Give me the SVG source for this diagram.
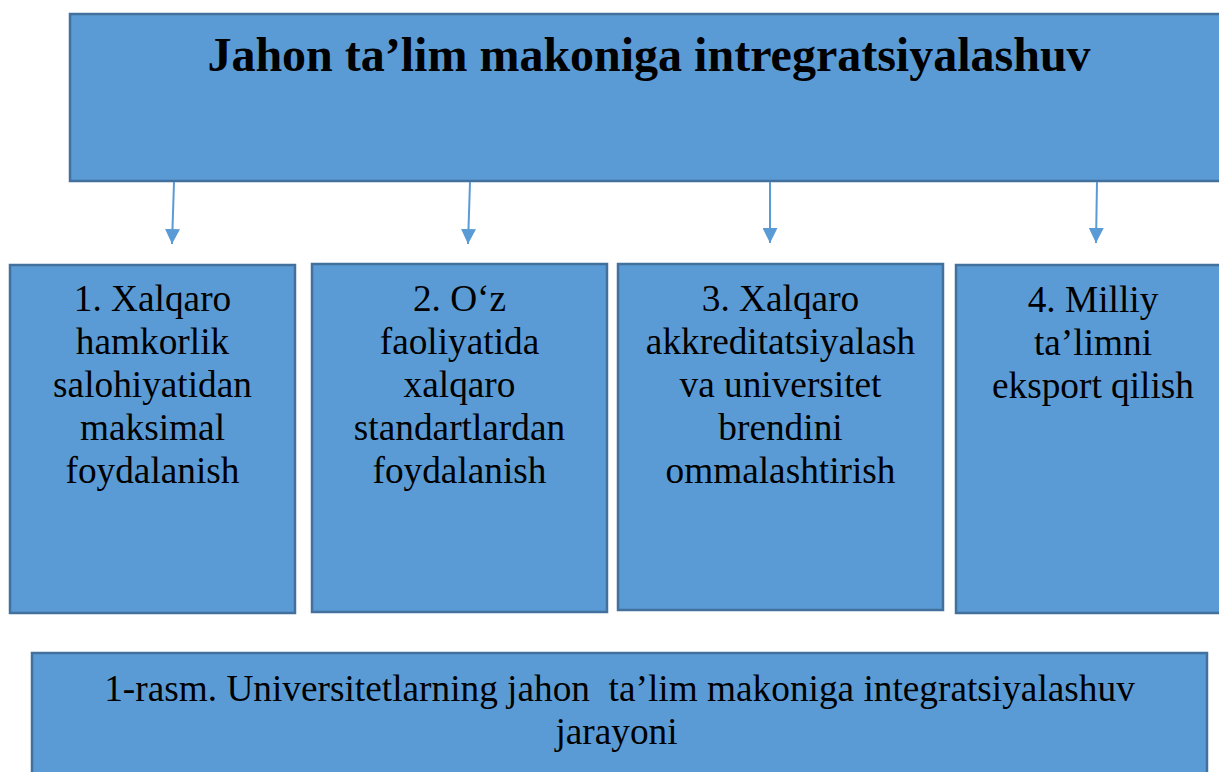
<svg xmlns="http://www.w3.org/2000/svg" width="1219" height="772" viewBox="0 0 1219 772">
<style>
.box{fill:#5B9BD5;stroke:#41719C;stroke-width:2.5}
.t{font-family:"Liberation Serif","Times New Roman",serif;font-size:37.3px;fill:#000;text-anchor:middle}
.title{font-family:"Liberation Serif","Times New Roman",serif;font-size:48px;font-weight:bold;fill:#000;text-anchor:middle}
.conn{stroke:#5B9BD5;stroke-width:2;fill:none}
</style>
<defs>
<marker id="arr" viewBox="0 0 16 15" refX="15" refY="7.5" markerWidth="16" markerHeight="15" markerUnits="userSpaceOnUse" orient="auto">
<path d="M0,0 L15,7.5 L0,15 Z" fill="#5B9BD5"/>
</marker>
</defs>
<rect width="1219" height="772" fill="#fff"/>
<g id="top">
<rect class="box" x="70" y="14" width="1160" height="167"/>
<text class="title" x="649" y="71">Jahon ta’lim makoniga intregratsiyalashuv</text>
</g>
<g id="connectors">
<line class="conn" x1="174" y1="182" x2="172" y2="244" marker-end="url(#arr)"/>
<line class="conn" x1="470" y1="182" x2="468" y2="244" marker-end="url(#arr)"/>
<line class="conn" x1="770" y1="182" x2="770" y2="243" marker-end="url(#arr)"/>
<line class="conn" x1="1097" y1="182" x2="1096" y2="243" marker-end="url(#arr)"/>
</g>
<g id="n1">
<rect class="box" x="10" y="265" width="285" height="348"/>
<text class="t" x="152.5" y="311">1. Xalqaro</text>
<text class="t" x="152.5" y="354">hamkorlik</text>
<text class="t" x="152.5" y="397">salohiyatidan</text>
<text class="t" x="152.5" y="440">maksimal</text>
<text class="t" x="152.5" y="483">foydalanish</text>
</g>
<g id="n2">
<rect class="box" x="312" y="264" width="295" height="348"/>
<text class="t" x="459.5" y="311">2. O‘z</text>
<text class="t" x="459.5" y="354">faoliyatida</text>
<text class="t" x="459.5" y="397">xalqaro</text>
<text class="t" x="459.5" y="440">standartlardan</text>
<text class="t" x="459.5" y="483">foydalanish</text>
</g>
<g id="n3">
<rect class="box" x="618" y="264" width="325" height="346"/>
<text class="t" x="780.5" y="311">3. Xalqaro</text>
<text class="t" x="780.5" y="354">akkreditatsiyalash</text>
<text class="t" x="780.5" y="397">va universitet</text>
<text class="t" x="780.5" y="440">brendini</text>
<text class="t" x="780.5" y="483">ommalashtirish</text>
</g>
<g id="n4">
<rect class="box" x="956" y="265" width="280" height="348"/>
<text class="t" x="1093" y="312">4. Milliy</text>
<text class="t" x="1093" y="355">ta’limni</text>
<text class="t" x="1093" y="398">eksport qilish</text>
</g>
<g id="caption">
<rect class="box" x="32" y="653" width="1175" height="140"/>
<text class="t" x="619.5" y="701" xml:space="preserve">1-rasm. Universitetlarning jahon  ta’lim makoniga integratsiyalashuv</text>
<text class="t" x="616.5" y="744">jarayoni</text>
</g>
</svg>
